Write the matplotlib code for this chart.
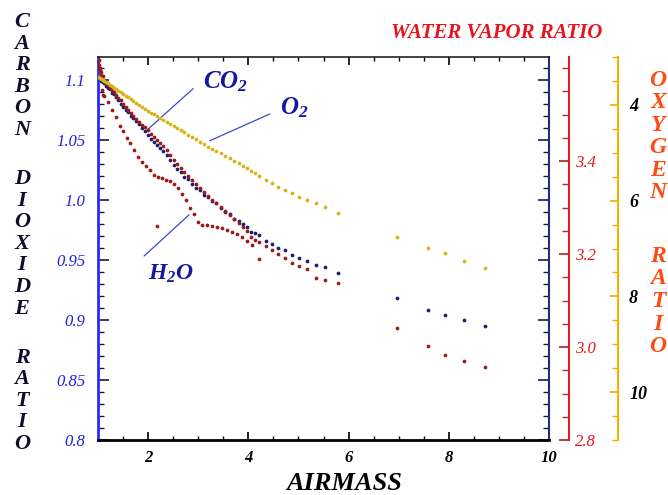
import matplotlib
matplotlib.use("Agg")
import matplotlib.pyplot as plt
from matplotlib.ticker import MultipleLocator

plt.rcParams["font.family"] = ["Liberation Serif", "DejaVu Serif"]
plt.rcParams["mathtext.fontset"] = "custom"
plt.rcParams["mathtext.rm"] = "Liberation Serif:bold:italic"
plt.rcParams["mathtext.it"] = "Liberation Serif:bold:italic"
plt.rcParams["mathtext.bf"] = "Liberation Serif:bold:italic"

# airmass of each observation (shared by the three ratios)
airmass = [1.00, 1.03, 1.06, 1.09, 1.12, 1.15, 1.19, 1.23, 1.27, 1.31, 1.35, 1.40, 1.45, 1.50,
           1.55, 1.60, 1.65, 1.70, 1.76, 1.82, 1.88, 1.94, 2.00, 2.06, 2.12, 2.18, 2.24, 2.30,
           2.37, 2.44, 2.51, 2.58, 2.65, 2.72, 2.80, 2.88, 2.96, 3.04, 3.12, 3.20, 3.28, 3.36,
           3.45, 3.54, 3.63, 3.72, 3.81, 3.90, 3.98, 4.06, 4.14, 4.22, 4.36, 4.48, 4.60, 4.74,
           4.88, 5.02, 5.18, 5.36, 5.52, 5.78, 6.96, 7.58, 7.92, 8.30, 8.72]

co2_ratio = [1.102, 1.101, 1.099, 1.098, 1.097, 1.095, 1.093, 1.092, 1.089, 1.088, 1.086, 1.083,
             1.080, 1.077, 1.075, 1.073, 1.070, 1.068, 1.066, 1.063, 1.060, 1.057, 1.054, 1.051,
             1.048, 1.046, 1.043, 1.041, 1.037, 1.033, 1.029, 1.026, 1.023, 1.019, 1.017, 1.013,
             1.010, 1.008, 1.004, 1.002, 0.999, 0.997, 0.993, 0.990, 0.988, 0.984, 0.982, 0.980,
             0.977, 0.973, 0.972, 0.971, 0.966, 0.963, 0.960, 0.958, 0.954, 0.952, 0.949, 0.946,
             0.944, 0.939, 0.918, 0.908, 0.904, 0.900, 0.895]

h2o_ratio = [3.613, 3.600, 3.591, 3.583, 3.574, 3.570, 3.563, 3.557, 3.553, 3.548, 3.542, 3.535,
             3.531, 3.523, 3.516, 3.510, 3.503, 3.497, 3.490, 3.484, 3.477, 3.473, 3.467, 3.458,
             3.452, 3.445, 3.439, 3.432, 3.424, 3.413, 3.402, 3.394, 3.385, 3.376, 3.368, 3.359,
             3.351, 3.342, 3.333, 3.325, 3.316, 3.310, 3.301, 3.292, 3.284, 3.275, 3.267, 3.258,
             3.249, 3.237, 3.230, 3.226, 3.217, 3.209, 3.200, 3.191, 3.181, 3.174, 3.168, 3.148,
             3.144, 3.138, 3.041, 3.002, 2.983, 2.970, 2.957]

o2_ratio = [3.42, 3.44, 3.46, 3.48, 3.50, 3.52, 3.55, 3.58, 3.60, 3.64, 3.67, 3.70, 3.74, 3.77,
            3.81, 3.84, 3.88, 3.92, 3.96, 4.00, 4.04, 4.08, 4.13, 4.17, 4.20, 4.24, 4.27, 4.31,
            4.35, 4.40, 4.44, 4.48, 4.53, 4.57, 4.63, 4.67, 4.72, 4.77, 4.82, 4.88, 4.92, 4.96,
            5.01, 5.06, 5.10, 5.17, 5.22, 5.27, 5.32, 5.38, 5.43, 5.48, 5.56, 5.63, 5.71, 5.77,
            5.85, 5.92, 5.98, 6.04, 6.13, 6.25, 6.75, 6.98, 7.10, 7.27, 7.40]

# second (lower) water vapour track
h2o_b_airmass = [1.01, 1.02, 1.04, 1.05, 1.08, 1.10, 1.12, 1.20, 1.28, 1.36, 1.44, 1.50, 1.58,
                 1.64, 1.72, 1.80, 1.88, 1.96, 2.04, 2.12, 2.20, 2.28, 2.36, 2.44, 2.52, 2.60,
                 2.68, 2.76, 2.84, 2.92, 3.00, 3.08, 3.18, 3.28, 3.38, 3.48, 3.58, 3.68, 3.78,
                 3.88, 3.98, 4.08, 2.18, 4.22]
h2o_b_ratio = [3.617, 3.606, 3.596, 3.585, 3.553, 3.542, 3.540, 3.527, 3.510, 3.495, 3.475, 3.465,
               3.449, 3.439, 3.424, 3.409, 3.398, 3.389, 3.381, 3.370, 3.366, 3.363, 3.359, 3.357,
               3.351, 3.342, 3.329, 3.316, 3.299, 3.286, 3.269, 3.262, 3.262, 3.260, 3.258, 3.256,
               3.252, 3.247, 3.243, 3.237, 3.228, 3.219, 3.260, 3.189]

co2_ticks = [0.8, 0.85, 0.9, 0.95, 1.0, 1.05, 1.1]
co2_labels = ["0.8", "0.85", "0.9", "0.95", "1.0", "1.05", "1.1"]
h2o_ticks = [2.8, 3.0, 3.2, 3.4]
h2o_labels = ["2.8", "3.0", "3.2", "3.4"]
o2_ticks = [4, 6, 8, 10]
o2_labels = ["4", "6", "8", "10"]
x_ticks = [2, 4, 6, 8, 10]
x_labels = ["2", "4", "6", "8", "10"]

W, H = 668, 495
fig = plt.figure(figsize=(W / 100, H / 100), dpi=100)
ax = fig.add_axes([98 / W, 1 - 440 / H, 451 / W, 383 / H])
ax_h = ax.twinx()
ax_o = ax.twinx()

ax.set_xlim(1, 10)
ax.set_ylim(0.8, 1.119)
ax_h.set_ylim(2.8, 3.624)
ax_o.set_ylim(11, 3)

dot = dict(linestyle="none", marker="o", markersize=2.7, markeredgewidth=0)
ax_o.plot(airmass, o2_ratio, color="#d8b41a", **dot)
ax.plot(airmass, co2_ratio, color="#1c1f6e", **dot)
ax_h.plot(airmass, h2o_ratio, color="#9a1b1b", **dot)
ax_h.plot(h2o_b_airmass, h2o_b_ratio, color="#9a1b1b", **dot)

# main frame
ax.spines["left"].set_color("#2b2bef")
ax.spines["left"].set_linewidth(2)
ax.spines["bottom"].set_color("black")
ax.spines["bottom"].set_linewidth(2)
ax.spines["top"].set_color("#222222")
ax.spines["top"].set_linewidth(1.2)
ax.spines["right"].set_color("#2a2a7a")
ax.spines["right"].set_linewidth(1.5)

ax.set_xticks(x_ticks, labels=x_labels, fontsize=12, fontstyle="italic", fontweight="bold")
ax.xaxis.set_minor_locator(MultipleLocator(0.5))
ax.tick_params(axis="x", which="both", direction="in", top=True, bottom=True,
               colors="black", pad=7)
ax.tick_params(axis="x", which="major", length=6, width=1.2)
ax.tick_params(axis="x", which="minor", length=3, width=1)

ax.set_yticks(co2_ticks, labels=co2_labels, fontsize=12, fontstyle="italic", color="#2020dd")
ax.yaxis.set_minor_locator(MultipleLocator(0.01))
ax.tick_params(axis="y", which="both", direction="in", left=True, right=True,
               color="#1a1a5a", pad=9)
ax.tick_params(axis="y", which="major", length=8, width=1.2)
ax.tick_params(axis="y", which="minor", length=4, width=1)

# water vapour axis
for s in ["left", "top", "bottom"]:
    ax_h.spines[s].set_visible(False)
    ax_o.spines[s].set_visible(False)
ax_h.spines["right"].set_position(("axes", (569 - 98) / 451))
ax_h.spines["right"].set_color("#e02020")
ax_h.spines["right"].set_linewidth(1.5)
ax_h.set_yticks(h2o_ticks, labels=h2o_labels, fontsize=12, fontstyle="italic", color="#e8141c")
ax_h.yaxis.set_minor_locator(MultipleLocator(0.05))
ax_h.tick_params(axis="y", which="both", direction="in", pad=4)
ax_h.tick_params(axis="y", which="major", length=7, width=1.5, color="#b04a4a")
ax_h.tick_params(axis="y", which="minor", length=5, width=1, color="#b03030")

# oxygen axis
ax_o.spines["right"].set_position(("axes", (618 - 98) / 451))
ax_o.spines["right"].set_color("#f0b400")
ax_o.spines["right"].set_linewidth(1.5)
ax_o.set_yticks(o2_ticks, labels=o2_labels, fontsize=13, fontstyle="italic",
                fontweight="bold", color="black")
ax_o.yaxis.set_minor_locator(MultipleLocator(0.5))
ax_o.tick_params(axis="y", which="both", direction="in", color="#e8b000", pad=8)
ax_o.tick_params(axis="y", which="major", length=6, width=1.2)
ax_o.tick_params(axis="y", which="minor", length=4, width=1)

# species labels with pointer lines
lab = dict(fontsize=18, fontstyle="italic", fontweight="bold", color="#1418a0",
           ha="left", va="center")
ptr = dict(arrowstyle="-", color="#3a48d0", lw=0.9)
ax.annotate("", xy=(1.94, 1.0567), xytext=(2.94, 1.0942), arrowprops=ptr)
ax.text(3.10, 1.0983, "CO$_2$", **lab)
ax.annotate("", xy=(3.18, 1.0483), xytext=(4.48, 1.0725), arrowprops=ptr)
ax.text(4.64, 1.0767, "O$_2$", **lab)
ax.annotate("", xy=(2.86, 0.9892), xytext=(1.88, 0.9517), arrowprops=ptr)
ax.text(2.0, 0.9383, "H$_2$O", **dict(lab, fontsize=17))

# axis titles
fig.text(497 / W, 1 - 33 / H, "WATER VAPOR RATIO", fontsize=15, fontstyle="italic",
         fontweight="bold", color="#e8141c", ha="center", va="center")
fig.text(344 / W, 1 - 484 / H, "AIRMASS", fontsize=19, fontstyle="italic",
         fontweight="bold", color="black", ha="center", va="center")


def stacked(words, x, y0, step, gap, **kw):
    y = y0
    for word in words:
        for ch in word:
            fig.text(x / W, 1 - y / H, ch, ha="center", va="center", **kw)
            y += step
        y += gap - step


stacked(["CARBON", "DIOXIDE", "RATIO"], 22, 22, 21.6, 49, fontsize=16,
        fontstyle="italic", fontweight="bold", color="#0e0e2c")
stacked(["OXYGEN", "RATIO"], 658, 80, 22.5, 64, fontsize=17,
        fontstyle="italic", fontweight="bold", color="#ff4a12")

fig.savefig("out.png", dpi=100)
